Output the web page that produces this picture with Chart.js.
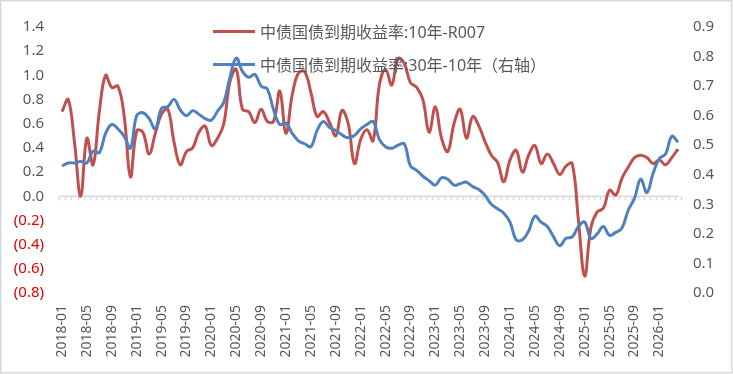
<!DOCTYPE html>
<html>
<head>
<meta charset="utf-8">
<script src="https://cdn.jsdelivr.net/npm/chart.js@4"></script>
<style>
  body { margin: 0; background: #fff; }
  #caixa { position: relative; width: 733px; height: 374px; }
  #legenda { position: absolute; left: 213px; top: 20px; font: 16px 'Noto Sans', 'Noto Sans CJK SC', sans-serif; color: #595959; }
  .item { display: flex; align-items: center; height: 22px; margin-bottom: 11px; white-space: nowrap; }
  .amostra { display: inline-block; width: 42px; height: 3px; margin-right: 5px; }
</style>
</head>
<body>
<div id="caixa">
  <canvas id="grafico" width="733" height="374"></canvas>
  <div id="legenda">
    <div class="item"><span class="amostra" style="background:#c0504d"></span>中债国债到期收益率:10年-R007</div>
    <div class="item"><span class="amostra" style="background:#4f81bd"></span>中债国债到期收益率:30年-10年（右轴）</div>
  </div>
</div>
<script>
/* ---------- Dados ---------- */
// meses 2018-01 .. 2026-04
const meses = [];
for (let a = 2018; a <= 2026; a++) {
  for (let m = 1; m <= 12; m++) {
    if (a === 2026 && m > 4) break;
    meses.push(a + '-' + String(m).padStart(2, '0'));
  }
}

// 中债国债到期收益率:10年-R007 (eixo esquerdo)
const spread10R007 = [
  0.70, 0.80, 0.45, 0.00, 0.48, 0.26, 0.70, 1.00, 0.90, 0.91,
  0.66, 0.16, 0.54, 0.53, 0.35, 0.52, 0.68, 0.72, 0.45, 0.26,
  0.37, 0.40, 0.53, 0.58, 0.42, 0.48, 0.60, 0.95, 1.05, 0.72,
  0.70, 0.61, 0.72, 0.62, 0.62, 0.87, 0.52, 0.84, 1.02, 1.03,
  0.86, 0.66, 0.70, 0.61, 0.50, 0.71, 0.60, 0.27, 0.47, 0.55,
  0.46, 0.92, 1.05, 0.92, 1.14, 1.10, 0.94, 0.90, 0.80, 0.53,
  0.74, 0.48, 0.37, 0.60, 0.72, 0.48, 0.66, 0.58, 0.45, 0.34,
  0.28, 0.12, 0.30, 0.38, 0.20, 0.34, 0.42, 0.27, 0.35, 0.27,
  0.18, 0.25, 0.27, -0.20, -0.66, -0.26, -0.13, -0.10, 0.05, 0.01,
  0.15, 0.24, 0.32, 0.34, 0.32, 0.27, 0.30, 0.26, 0.32, 0.39
];

// 中债国债到期收益率:30年-10年 (eixo direito)
const spread30y10y = [
  0.430, 0.440, 0.440, 0.445, 0.440, 0.480, 0.475, 0.540, 0.570, 0.555,
  0.530, 0.490, 0.600, 0.610, 0.590, 0.555, 0.625, 0.630, 0.655, 0.620,
  0.600, 0.617, 0.605, 0.590, 0.585, 0.615, 0.645, 0.730, 0.795, 0.750,
  0.730, 0.740, 0.700, 0.690, 0.620, 0.570, 0.575, 0.540, 0.515, 0.505,
  0.495, 0.550, 0.580, 0.560, 0.550, 0.535, 0.525, 0.533, 0.555, 0.570,
  0.580, 0.520, 0.495, 0.490, 0.500, 0.505, 0.430, 0.415, 0.395, 0.380,
  0.365, 0.390, 0.385, 0.365, 0.370, 0.375, 0.360, 0.350, 0.330, 0.300,
  0.285, 0.270, 0.240, 0.180, 0.180, 0.210, 0.260, 0.240, 0.225, 0.190,
  0.160, 0.185, 0.190, 0.225, 0.240, 0.185, 0.200, 0.225, 0.195, 0.205,
  0.220, 0.280, 0.320, 0.385, 0.340, 0.405, 0.455, 0.470, 0.530, 0.510
];

/* ---------- Plugins ---------- */
// linha do zero com marcas em cada mes (estilo Excel)
const eixoZero = {
  id: 'eixoZero',
  beforeDatasetsDraw(chart) {
    const { ctx, chartArea, scales } = chart;
    const y0 = scales.y.getPixelForValue(0);
    const passo = scales.x.getPixelForValue(1) - scales.x.getPixelForValue(0);
    ctx.save();
    ctx.strokeStyle = '#d9d9d9';
    ctx.lineWidth = 1.5;
    ctx.beginPath();
    ctx.moveTo(chartArea.left - 2, y0);
    ctx.lineTo(chartArea.right + 1, y0);
    for (let i = 0; i <= meses.length; i++) {
      const xb = Math.round(scales.x.getPixelForValue(i) - passo / 2) + 0.5;
      ctx.moveTo(xb, y0);
      ctx.lineTo(xb, y0 + 4);
    }
    ctx.stroke();
    ctx.restore();
  }
};

const moldura = {
  id: 'moldura',
  afterDraw(chart) {
    const ctx = chart.ctx;
    ctx.save();
    ctx.strokeStyle = '#d9d9d9';
    ctx.lineWidth = 1.5;
    ctx.strokeRect(0.75, 0.75, 731, 372);
    ctx.restore();
  }
};

/* ---------- Grafico ---------- */
const fonte = "'Noto Sans', 'Noto Sans CJK SC', sans-serif";
const ctx = document.getElementById('grafico').getContext('2d');
new Chart(ctx, {
  type: 'line',
  data: {
    labels: meses,
    datasets: [
      { label: '中债国债到期收益率:10年-R007', data: spread10R007, yAxisID: 'y',
        borderColor: '#c0504d', borderWidth: 3, pointRadius: 0, tension: 0.4, order: 1 },
      { label: '中债国债到期收益率:30年-10年（右轴）', data: spread30y10y, yAxisID: 'y1',
        borderColor: '#4f81bd', borderWidth: 3, pointRadius: 0, tension: 0.4, order: 0 }
    ]
  },
  options: {
    responsive: false,
    animation: false,
    layout: { padding: { top: 24, left: 0, right: 0, bottom: 0 } },
    plugins: { legend: { display: false }, tooltip: { enabled: false } },
    scales: {
      x: {
        grid: { display: false, drawTicks: false },
        border: { display: false },
        ticks: {
          autoSkip: false, maxRotation: 90, minRotation: 90, padding: 12,
          color: '#595959', font: { family: fonte, size: 14 },
          callback: (v, i) => (i % 4 === 0 ? meses[i] : '')
        },
        afterFit: s => { s.height = 81; }
      },
      y: {
        position: 'left', min: -0.8, max: 1.4,
        grid: { display: false, drawTicks: false },
        border: { display: false },
        ticks: {
          stepSize: 0.2, padding: 18, font: { family: fonte, size: 15 },
          color: c => (c.tick.value < -1e-9 ? '#e00000' : '#595959'),
          callback: v => (v < -1e-9 ? '(' + Math.abs(v).toFixed(1) + ')' : Math.abs(v).toFixed(1))
        },
        afterFit: s => { s.width = 62; }
      },
      y1: {
        position: 'right', min: 0, max: 0.9,
        grid: { display: false, drawTicks: false },
        border: { display: false },
        ticks: {
          stepSize: 0.1, padding: 15, color: '#595959', font: { family: fonte, size: 15 },
          callback: v => v.toFixed(1)
        },
        afterFit: s => { s.width = 55; }
      }
    }
  },
  plugins: [eixoZero, moldura]
});
</script>
</body>
</html>
